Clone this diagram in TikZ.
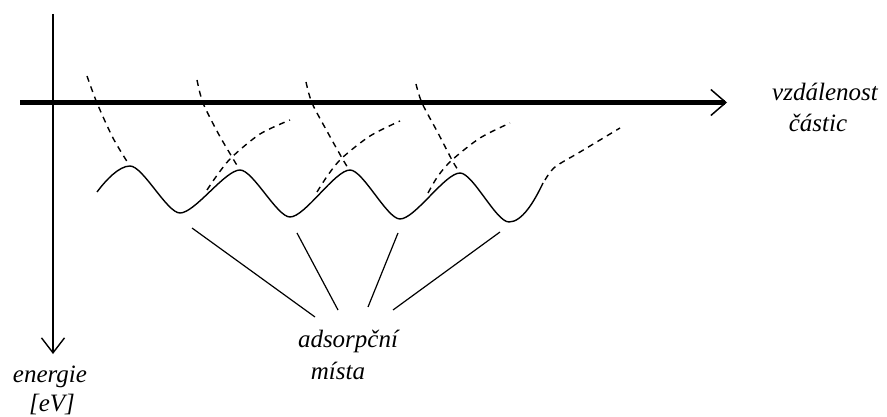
\documentclass[tikz,border=0pt]{standalone}
\usepackage{fontspec}
\setmainfont{Liberation Serif}
\usetikzlibrary{arrows.meta}
\tikzset{
  lbl/.style={inner sep=0pt, font=\itshape\fontsize{25}{30}\selectfont},
  haxis/.style={line width=4.4pt, -{Straight Barb[length=15pt,width=26pt,line width=1.5pt]}},
  vaxis/.style={line width=2pt, -{Straight Barb[length=15pt,width=23pt,line width=1.4pt]}},
  wave/.style={line width=1.4pt},
  branch/.style={line width=1.4pt, dash pattern=on 6pt off 5pt},
  pointer/.style={line width=1.2pt}
}
\begin{document}
\begin{tikzpicture}[x=1pt,y=-1pt]
\useasboundingbox (0,0) rectangle (887,417);
% axes
\coordinate (hstart) at (20,102.5);
\coordinate (hend) at (727,102.5);
\coordinate (vstart) at (53,14);
\coordinate (vend) at (53,354);
\draw[haxis] (hstart) -- (hend);
\draw[vaxis] (vstart) -- (vend);
% labels
\node[lbl] (vz) at (825,92) {vzdálenost};
\node[lbl] (ca) at (818,123) {částic};
\node[lbl] (en) at (50,377) {energie};
\node[lbl] (ev) at (52,404) {[eV]};
\node[lbl] (ad) at (348,341) {adsorpční};
\node[lbl] (mi) at (338,371) {místa};
% solid envelope
\draw[wave] (97,192) .. controls (106,180) and (119,166) .. (130,166)
  .. controls (143,166) and (167,213) .. (180,213)
  .. controls (195,213) and (225,170) .. (240,170)
  .. controls (253,170) and (277,217) .. (290,217)
  .. controls (305,217) and (335,170) .. (350,170)
  .. controls (363,170) and (387,219) .. (400,219)
  .. controls (415,219) and (445,173) .. (460,173)
  .. controls (473,173) and (496,222) .. (509,222)
  .. controls (522,222) and (534,202) .. (543,183);
% dashed potential branches
\draw[branch] plot[smooth] coordinates {(87,76) (97,103) (113,138) (128,163)};
\draw[branch] plot[smooth] coordinates {(197,80) (203,103) (218,133) (232,157) (238,167)};
\draw[branch] plot[smooth] coordinates {(306,82) (312,103) (328,133) (342,158) (348,168)};
\draw[branch] plot[smooth] coordinates {(416,84) (422,103) (438,133) (452,160) (458,170)};
\draw[branch] plot[smooth] coordinates {(207,190) (218,174) (232,157) (260,134) (290,120)};
\draw[branch] plot[smooth] coordinates {(317,192) (328,175) (342,158) (370,136) (400,121)};
\draw[branch] plot[smooth] coordinates {(428,193) (438,176) (452,160) (480,138) (510,123)};
\draw[branch] plot[smooth] coordinates {(545,180) (555,167) (580,152) (620,128)};
% pointers to adsorption sites
\coordinate (p1) at (192,228);
\coordinate (q1) at (315,317);
\coordinate (p2) at (297,233);
\coordinate (q2) at (338,310);
\coordinate (p3) at (398,233);
\coordinate (q3) at (368,307);
\coordinate (p4) at (500,232);
\coordinate (q4) at (393,310);
\draw[pointer] (p1) -- (q1);
\draw[pointer] (p2) -- (q2);
\draw[pointer] (p3) -- (q3);
\draw[pointer] (p4) -- (q4);
\end{tikzpicture}
\end{document}
